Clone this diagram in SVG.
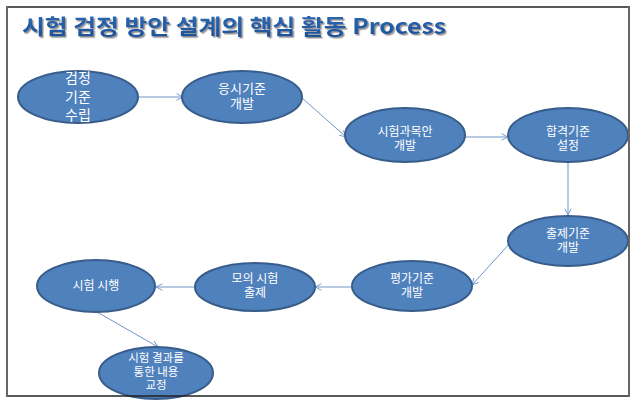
<svg xmlns="http://www.w3.org/2000/svg" width="637" height="403" viewBox="0 0 637 403">
<defs>
<style>
.node ellipse{fill:#4f81bd;stroke:#385d8a;stroke-width:2}
.node text{fill:#ffffff;font-family:"Noto Sans CJK KR","Noto Sans",sans-serif;text-anchor:middle}
.conn line{stroke:#6f95c9;stroke-width:1;marker-end:url(#arr)}
.title{font-family:"Noto Sans CJK KR","Noto Sans",sans-serif;font-weight:bold;font-size:21px}
</style>
<marker id="arr" viewBox="0 0 10 10" refX="9" refY="5" markerWidth="8" markerHeight="8" orient="auto" markerUnits="userSpaceOnUse">
<path d="M1,1 L9,5 L1,9" fill="none" stroke="#6f95c9" stroke-width="1.2"/>
</marker>
<linearGradient id="tg" x1="0" y1="0" x2="0" y2="1">
<stop offset="0" stop-color="#2e6db8"/>
<stop offset="1" stop-color="#1a4f96"/>
</linearGradient>
<filter id="shadow" x="-5%" y="-30%" width="110%" height="160%">
<feDropShadow dx="1.5" dy="1.5" stdDeviation="0.6" flood-color="#888888" flood-opacity="0.9"/>
</filter>
<clipPath id="frameclip"><rect x="0" y="0" width="637" height="400"/></clipPath>
</defs>
<rect x="0" y="0" width="637" height="403" fill="#ffffff"/>
<g id="title">
<text class="title" x="22" y="34" fill="url(#tg)" filter="url(#shadow)" textLength="424" lengthAdjust="spacingAndGlyphs">시험 검정 방안 설계의 핵심 활동 Process</text>
</g>
<g id="connectors" class="conn">
<line x1="139" y1="97" x2="183" y2="97"/>
<line x1="301" y1="97" x2="346" y2="137"/>
<line x1="465" y1="137" x2="508" y2="137"/>
<line x1="568" y1="162" x2="568" y2="215"/>
<line x1="511" y1="242" x2="472" y2="285"/>
<line x1="352" y1="287" x2="315" y2="287"/>
<line x1="195" y1="287" x2="156" y2="287"/>
<line x1="97" y1="312" x2="158" y2="347"/>
</g>
<g id="n1" class="node"><ellipse cx="78" cy="97" rx="60" ry="26"/>
<text font-size="14"><tspan x="78" y="83">검정</tspan><tspan x="78" y="102">기준</tspan><tspan x="78" y="120">수립</tspan></text></g>
<g id="n2" class="node"><ellipse cx="242" cy="97" rx="60" ry="26"/>
<text font-size="13"><tspan x="242" y="93">응시기준</tspan><tspan x="242" y="108">개발</tspan></text></g>
<g id="n3" class="node"><ellipse cx="405" cy="135" rx="60" ry="27"/>
<text font-size="12"><tspan x="405" y="136">시험과목안</tspan><tspan x="405" y="150">개발</tspan></text></g>
<g id="n4" class="node"><ellipse cx="568" cy="135" rx="60" ry="27"/>
<text font-size="12"><tspan x="568" y="136">합격기준</tspan><tspan x="568" y="150">설정</tspan></text></g>
<g id="n5" class="node"><ellipse cx="568" cy="241" rx="60" ry="25"/>
<text font-size="12"><tspan x="568" y="238">출제기준</tspan><tspan x="568" y="252">개발</tspan></text></g>
<g id="n6" class="node"><ellipse cx="412" cy="286" rx="60" ry="25"/>
<text font-size="12"><tspan x="412" y="283">평가기준</tspan><tspan x="412" y="297">개발</tspan></text></g>
<g id="n7" class="node"><ellipse cx="255" cy="287" rx="60" ry="24"/>
<text font-size="12"><tspan x="255" y="283">모의 시험</tspan><tspan x="255" y="297">출제</tspan></text></g>
<g id="n8" class="node"><ellipse cx="96" cy="286" rx="59" ry="26"/>
<text font-size="12"><tspan x="96" y="290">시험 시행</tspan></text></g>
<g id="n9" class="node" clip-path="url(#frameclip)"><ellipse cx="156" cy="373" rx="57" ry="26"/>
<text font-size="11.5"><tspan x="156" y="362">시험 결과를</tspan><tspan x="156" y="375.5">통한 내용</tspan><tspan x="156" y="389">교정</tspan></text></g>
<g id="frame" fill="none">
<line x1="7" y1="7" x2="630" y2="7" stroke="#222222" stroke-width="1.5"/>
<line x1="7" y1="396" x2="630" y2="396" stroke="#222222" stroke-width="1.5"/>
<line x1="7" y1="6" x2="7" y2="397" stroke="#666666" stroke-width="2"/>
<line x1="629" y1="6" x2="629" y2="397" stroke="#666666" stroke-width="2"/>
</g>
</svg>
